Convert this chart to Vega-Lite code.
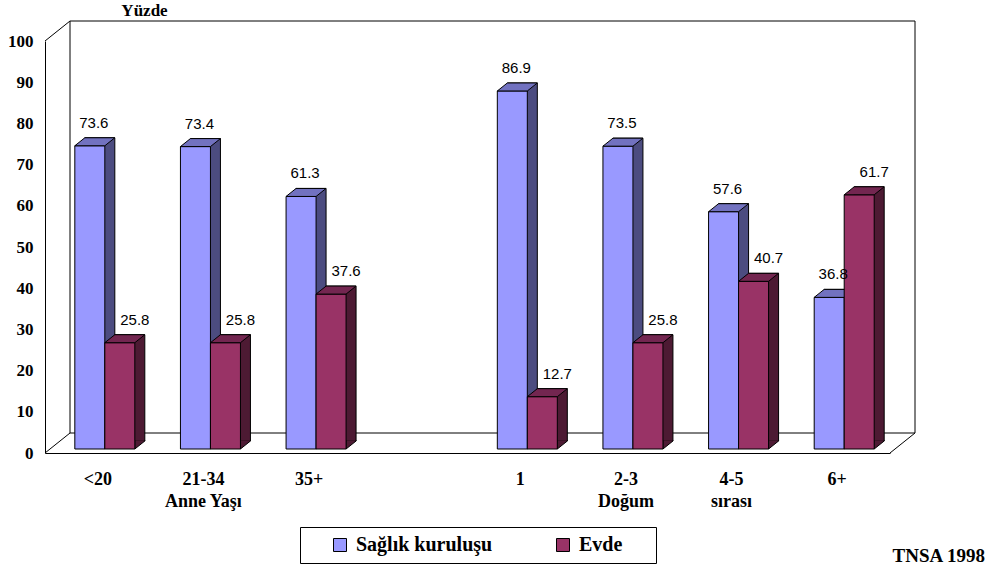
{
  "$schema": "https://vega.github.io/schema/vega-lite/v6.json",
  "width": 845,
  "height": 412,
  "autosize": "none",
  "padding": {"left": 45, "top": 41, "right": 105, "bottom": 118},
  "background": "white",
  "config": {"view": {"stroke": null}, "font": "Liberation Serif"},
  "title": {
    "text": "TNSA 1998",
    "orient": "bottom",
    "anchor": "end",
    "frame": "group",
    "font": "Liberation Serif",
    "fontSize": 19,
    "fontWeight": "bold",
    "color": "black",
    "dx": 95,
    "offset": -17
  },
  "datasets": {
    "oran": [
      {"grup": "<20", "seri": "Sağlık kuruluşu", "yuzde": 73.6},
      {"grup": "<20", "seri": "Evde", "yuzde": 25.8},
      {"grup": "21-34", "seri": "Sağlık kuruluşu", "yuzde": 73.4},
      {"grup": "21-34", "seri": "Evde", "yuzde": 25.8},
      {"grup": "35+", "seri": "Sağlık kuruluşu", "yuzde": 61.3},
      {"grup": "35+", "seri": "Evde", "yuzde": 37.6},
      {"grup": "1", "seri": "Sağlık kuruluşu", "yuzde": 86.9},
      {"grup": "1", "seri": "Evde", "yuzde": 12.7},
      {"grup": "2-3", "seri": "Sağlık kuruluşu", "yuzde": 73.5},
      {"grup": "2-3", "seri": "Evde", "yuzde": 25.8},
      {"grup": "4-5", "seri": "Sağlık kuruluşu", "yuzde": 57.6},
      {"grup": "4-5", "seri": "Evde", "yuzde": 40.7},
      {"grup": "6+", "seri": "Sağlık kuruluşu", "yuzde": 36.8},
      {"grup": "6+", "seri": "Evde", "yuzde": 61.7}
    ],
    "bos": [{}]
  },
  "layer": [
    {
      "description": "back wall of the 3D frame",
      "data": {"name": "bos"},
      "mark": {"type": "rect", "fill": "white", "stroke": "black", "strokeWidth": 1, "xOffset": 25, "x2Offset": 25, "yOffset": -20, "y2Offset": -20},
      "encoding": {
        "x": {"value": 0},
        "x2": {"value": "width"},
        "y": {"datum": 100, "type": "quantitative"},
        "y2": {"datum": 0}
      }
    },
    {
      "description": "upper-left depth edge",
      "data": {"name": "bos"},
      "mark": {"type": "rule", "color": "black", "strokeWidth": 1, "x2Offset": 25, "y2Offset": -20},
      "encoding": {
        "x": {"value": 0},
        "x2": {"value": 0},
        "y": {"datum": 100, "type": "quantitative"},
        "y2": {"datum": 100}
      }
    },
    {
      "description": "lower-left depth edge",
      "data": {"name": "bos"},
      "mark": {"type": "rule", "color": "black", "strokeWidth": 1, "x2Offset": 25, "y2Offset": -20},
      "encoding": {
        "x": {"value": 0},
        "x2": {"value": 0},
        "y": {"datum": 0, "type": "quantitative"},
        "y2": {"datum": 0}
      }
    },
    {
      "description": "lower-right depth edge",
      "data": {"name": "bos"},
      "mark": {"type": "rule", "color": "black", "strokeWidth": 1, "x2Offset": 25, "y2Offset": -20},
      "encoding": {
        "x": {"value": "width"},
        "x2": {"value": "width"},
        "y": {"datum": 0, "type": "quantitative"},
        "y2": {"datum": 0}
      }
    },
    {
      "description": "blue bars: side face",
      "data": {"name": "oran"},
      "transform": [{"filter": "datum.seri == 'Sağlık kuruluşu'"}],
      "mark": {"type": "bar", "width": 30, "fill": "#4C4C80", "stroke": "black", "strokeWidth": 1, "xOffset": 2, "yOffset": -12, "y2Offset": -12},
      "encoding": {
        "x": {"field": "grup", "type": "nominal"},
        "y": {"field": "yuzde", "type": "quantitative"}
      }
    },
    {
      "description": "blue bars: foot of side face",
      "data": {"name": "oran"},
      "transform": [{"filter": "datum.seri == 'Sağlık kuruluşu'"}],
      "mark": {"type": "point", "shape": "M 1.5 -0.86 L 1.5 0 L 2.5 -0.8 L 2.5 -0.86", "size": 400, "filled": true, "fill": "#4C4C80", "stroke": "black", "strokeWidth": 1, "opacity": 1, "xOffset": -8, "yOffset": -4},
      "encoding": {
        "x": {"field": "grup", "type": "nominal"},
        "y": {"datum": 0, "type": "quantitative"}
      }
    },
    {
      "description": "blue bars: front face",
      "data": {"name": "oran"},
      "transform": [{"filter": "datum.seri == 'Sağlık kuruluşu'"}],
      "mark": {"type": "bar", "width": 30, "stroke": "black", "strokeWidth": 1, "opacity": 1, "xOffset": -8, "yOffset": -4, "y2Offset": -4},
      "encoding": {
        "x": {
          "field": "grup",
          "type": "nominal",
          "scale": {"domain": ["<20", "21-34", "35+", " ", "1", "2-3", "4-5", "6+"], "paddingInner": 0.432, "paddingOuter": 0.216},
          "axis": {
            "title": null,
            "labelAngle": 0,
            "labelAlign": "center",
            "labelFont": "Liberation Serif",
            "labelFontSize": 18,
            "labelFontWeight": "bold",
            "labelColor": "black",
            "labelPadding": 17,
            "labelLineHeight": 22,
            "labelBaseline": "top",
            "labelExpr": "datum.value == '21-34' ? ['21-34', 'Anne Yaşı'] : datum.value == '2-3' ? ['2-3', 'Doğum'] : datum.value == '4-5' ? ['4-5', 'sırası'] : datum.value",
            "ticks": false,
            "domainColor": "black",
            "domainWidth": 1,
            "grid": false
          }
        },
        "y": {
          "field": "yuzde",
          "type": "quantitative",
          "scale": {"domain": [0, 100], "nice": false},
          "axis": {
            "title": "Yüzde",
            "titleAngle": 0,
            "titleAlign": "center",
            "titleBaseline": "alphabetic",
            "titleX": 99,
            "titleY": -26,
            "titleFont": "Liberation Serif",
            "titleFontSize": 17,
            "titleFontWeight": "bold",
            "titleColor": "black",
            "values": [0, 10, 20, 30, 40, 50, 60, 70, 80, 90, 100],
            "labelFont": "Liberation Serif",
            "labelFontSize": 17,
            "labelFontWeight": "bold",
            "labelColor": "black",
            "labelPadding": 12,
            "ticks": false,
            "grid": false,
            "domainColor": "black",
            "domainWidth": 1
          }
        },
        "color": {
          "field": "seri",
          "type": "nominal",
          "scale": {"domain": ["Sağlık kuruluşu", "Evde"], "range": ["#9999FF", "#993366"]},
          "legend": {
            "title": " ",
            "titleOrient": "right",
            "titlePadding": 26,
            "titleFontSize": 20,
            "orient": "none",
            "legendX": 255,
            "legendY": 486,
            "direction": "horizontal",
            "padding": 8,
            "strokeColor": "black",
            "fillColor": "white",
            "symbolType": "square",
            "symbolSize": 169,
            "symbolStrokeColor": "black",
            "symbolStrokeWidth": 1,
            "symbolOpacity": 1,
            "symbolOffset": 22,
            "labelOffset": 6,
            "columnPadding": 38,
            "labelFont": "Liberation Serif",
            "labelFontSize": 20,
            "labelFontWeight": "bold",
            "labelColor": "black",
            "labelLimit": 0
          }
        }
      }
    },
    {
      "description": "blue bars: top face",
      "data": {"name": "oran"},
      "transform": [{"filter": "datum.seri == 'Sağlık kuruluşu'"}],
      "mark": {"type": "point", "shape": "M -1.5 0 L 1.5 0 L 2.5 -0.8 L -0.5 -0.8 Z", "size": 400, "filled": true, "fill": "#7272C0", "stroke": "black", "strokeWidth": 1, "opacity": 1, "xOffset": -8, "yOffset": -4},
      "encoding": {
        "x": {"field": "grup", "type": "nominal"},
        "y": {"field": "yuzde", "type": "quantitative"}
      }
    },
    {
      "description": "red bars: side face",
      "data": {"name": "oran"},
      "transform": [{"filter": "datum.seri == 'Evde'"}],
      "mark": {"type": "bar", "width": 30, "fill": "#4D1A33", "stroke": "black", "strokeWidth": 1, "xOffset": 32, "yOffset": -12, "y2Offset": -12},
      "encoding": {
        "x": {"field": "grup", "type": "nominal"},
        "y": {"field": "yuzde", "type": "quantitative"}
      }
    },
    {
      "description": "red bars: foot of side face",
      "data": {"name": "oran"},
      "transform": [{"filter": "datum.seri == 'Evde'"}],
      "mark": {"type": "point", "shape": "M 1.5 -0.86 L 1.5 0 L 2.5 -0.8 L 2.5 -0.86", "size": 400, "filled": true, "fill": "#4D1A33", "stroke": "black", "strokeWidth": 1, "opacity": 1, "xOffset": 22, "yOffset": -4},
      "encoding": {
        "x": {"field": "grup", "type": "nominal"},
        "y": {"datum": 0, "type": "quantitative"}
      }
    },
    {
      "description": "red bars: front face",
      "data": {"name": "oran"},
      "transform": [{"filter": "datum.seri == 'Evde'"}],
      "mark": {"type": "bar", "width": 30, "stroke": "black", "strokeWidth": 1, "opacity": 1, "xOffset": 22, "yOffset": -4, "y2Offset": -4},
      "encoding": {
        "x": {"field": "grup", "type": "nominal"},
        "y": {"field": "yuzde", "type": "quantitative"},
        "color": {"field": "seri", "type": "nominal"}
      }
    },
    {
      "description": "red bars: top face",
      "data": {"name": "oran"},
      "transform": [{"filter": "datum.seri == 'Evde'"}],
      "mark": {"type": "point", "shape": "M -1.5 0 L 1.5 0 L 2.5 -0.8 L -0.5 -0.8 Z", "size": 400, "filled": true, "fill": "#732650", "stroke": "black", "strokeWidth": 1, "opacity": 1, "xOffset": 22, "yOffset": -4},
      "encoding": {
        "x": {"field": "grup", "type": "nominal"},
        "y": {"field": "yuzde", "type": "quantitative"}
      }
    },
    {
      "description": "value labels, blue series",
      "data": {"name": "oran"},
      "transform": [{"filter": "datum.seri == 'Sağlık kuruluşu'"}],
      "mark": {"type": "text", "font": "Liberation Sans", "fontSize": 15, "color": "black", "baseline": "alphabetic", "align": "center", "xOffset": -4, "yOffset": -22},
      "encoding": {
        "x": {"field": "grup", "type": "nominal"},
        "y": {"field": "yuzde", "type": "quantitative"},
        "text": {"field": "yuzde", "type": "quantitative", "format": ".1f"}
      }
    },
    {
      "description": "value labels, red series",
      "data": {"name": "oran"},
      "transform": [{"filter": "datum.seri == 'Evde'"}],
      "mark": {"type": "text", "font": "Liberation Sans", "fontSize": 15, "color": "black", "baseline": "alphabetic", "align": "center", "xOffset": 37, "yOffset": -22},
      "encoding": {
        "x": {"field": "grup", "type": "nominal"},
        "y": {"field": "yuzde", "type": "quantitative"},
        "text": {"field": "yuzde", "type": "quantitative", "format": ".1f"}
      }
    }
  ]
}
